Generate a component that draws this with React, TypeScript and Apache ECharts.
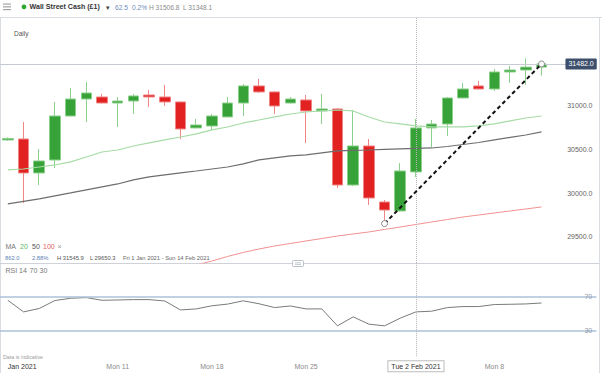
import React, { useEffect, useRef } from 'react';
import * as echarts from 'echarts';

const categories = [
  'Sun 3 Jan', 'Mon 4 Jan', 'Tue 5 Jan', 'Wed 6 Jan', 'Thu 7 Jan', 'Fri 8 Jan',
  'Sun 10 Jan', 'Mon 11 Jan', 'Tue 12 Jan', 'Wed 13 Jan', 'Thu 14 Jan', 'Fri 15 Jan',
  'Sun 17 Jan', 'Mon 18 Jan', 'Tue 19 Jan', 'Wed 20 Jan', 'Thu 21 Jan', 'Fri 22 Jan',
  'Sun 24 Jan', 'Mon 25 Jan', 'Tue 26 Jan', 'Wed 27 Jan', 'Thu 28 Jan', 'Fri 29 Jan',
  'Sun 31 Jan', 'Mon 1 Feb', 'Tue 2 Feb', 'Wed 3 Feb', 'Thu 4 Feb', 'Fri 5 Feb',
  'Sun 7 Feb', 'Mon 8 Feb', 'Tue 9 Feb', 'Wed 10 Feb', 'Thu 11 Feb', 'Fri 12 Feb',
  'Sun 14 Feb', 'Mon 15 Feb',
];

const tickIndex = [0, 7, 13, 19, 25, 31];
const tickText = ['Jan 2021', 'Mon 11', 'Mon 18', 'Mon 25', 'Feb', 'Mon 8'];

const opens = [30610, 30621, 30231, 30380, 30885, 31080, 31103, 31034, 31057, 31126, 31103, 31046, 30748, 30770, 30874, 31034, 31230, 31161, 31034, 31069, 30943, 30966, 30093, 30541, 29898, 29795, 30243, 30748, 30793, 31092, 31230, 31195, 31390, 31413, 31446];
const closes = [30627, 30231, 30369, 30885, 31080, 31149, 31034, 31057, 31115, 31103, 31046, 30736, 30782, 30885, 31034, 31230, 31161, 31000, 31080, 30943, 30966, 30093, 30541, 29944, 29806, 30254, 30748, 30793, 31092, 31195, 31195, 31390, 31413, 31446, 31482];
const lows = [30600, 29887, 30093, 30288, 30880, 30816, 31029, 30759, 30908, 30989, 31000, 30621, 30742, 30725, 30868, 30885, 31149, 30908, 31029, 30575, 30793, 30059, 30082, 29864, 29650.3, 29789, 30185, 30529, 30656, 31086, 31189, 31172, 31264, 31241, 31348.1];
const highs = [30640, 30816, 30507, 31046, 31207, 31275, 31138, 31103, 31138, 31184, 31241, 31052, 30851, 30908, 31103, 31252, 31310, 31166, 31103, 31126, 31138, 30977, 30954, 30621, 29921, 30346, 30851, 30839, 31103, 31264, 31287, 31425, 31459, 31545.9, 31506.8];

const ma20 = [30266, 30277, 30300, 30323, 30358, 30415, 30472, 30495, 30541, 30576, 30610, 30644, 30679, 30725, 30759, 30805, 30839, 30874, 30908, 30931, 30943, 30954, 30943, 30874, 30816, 30794, 30771, 30759, 30759, 30759, 30771, 30794, 30828, 30862, 30885];
const ma50 = [29876, 29905, 29933, 29968, 30002, 30037, 30071, 30105, 30151, 30186, 30209, 30232, 30254, 30277, 30300, 30335, 30381, 30404, 30427, 30438, 30461, 30484, 30490, 30495, 30501, 30507, 30513, 30518, 30535, 30558, 30581, 30610, 30639, 30667, 30702];
const ma100 = [null, null, null, null, null, null, null, null, null, null, null, null, 29175, 29221, 29273, 29319, 29359, 29393, 29422, 29451, 29479, 29508, 29531, 29554, 29583, 29611, 29640, 29669, 29697, 29726, 29749, 29772, 29795, 29818, 29841];
const rsi = [66.1, 52.4, 56.4, 65.8, 68.5, 69.3, 66.1, 66.5, 66.9, 66.9, 65.3, 54.7, 55.9, 59.6, 61.6, 65.5, 62.0, 57.5, 59.4, 55.9, 55.9, 35.9, 46.5, 37.9, 35.9, 45.0, 52.4, 53.2, 57.5, 58.7, 58.7, 61.1, 61.4, 61.8, 62.9];

const trendStart = [24, 29650.3];
const trendEnd = [34, 31482];
const lastPrice = 31482;
const crossIndex = 26;
const crossLabel = 'Tue 2 Feb 2021';
const priceTicks = [29500, 30000, 30500, 31000];
const rsiLevels = [70, 30];

const FONT = '"Liberation Sans", Arial, sans-serif';

function txt(x: number, y: number, text: string, fill: string, size: number, weight = 'normal') {
  return {
    type: 'text',
    x,
    y,
    silent: true,
    style: { text, fill, font: `${weight} ${size}px ${FONT}`, verticalAlign: 'middle', align: 'left' },
  };
}

export default function App() {
  const ref = useRef<HTMLDivElement>(null);
  useEffect(() => {
    if (!ref.current) return;
    const chart = echarts.init(ref.current, undefined, { renderer: 'svg' });
    const candleData = opens.map((o, i) => [o, closes[i], lows[i], highs[i]]);
    const gridLeft = -7.35;
    const gridWidth = 603.8;
    const option: any = {
      animation: false,
      backgroundColor: '#ffffff',
      textStyle: { fontFamily: FONT },
      grid: [
        { left: gridLeft, width: gridWidth, top: 17, height: 246 },
        { left: gridLeft, width: gridWidth, top: 263.5, height: 92.7 },
      ],
      xAxis: [
        {
          type: 'category', gridIndex: 0, data: categories, boundaryGap: true,
          axisLine: { show: false }, axisTick: { show: false }, axisLabel: { show: false }, splitLine: { show: false },
        },
        {
          type: 'category', gridIndex: 1, data: categories, boundaryGap: true, position: 'bottom',
          axisLine: { show: false }, axisTick: { show: false }, splitLine: { show: false },
          axisLabel: {
            show: true,
            margin: 6.5,
            fontSize: 7,
            color: '#8a8a8a',
            alignMinLabel: 'left',
            interval: (index: number) => tickIndex.indexOf(index) >= 0,
            formatter: (_v: string, index: number) => {
              const k = tickIndex.indexOf(index);
              if (k < 0) return '';
              return k === 0 ? `{d|${tickText[k]}}` : tickText[k];
            },
            rich: { d: { color: '#333333', fontSize: 7, fontFamily: FONT } },
          },
        },
      ],
      yAxis: [
        {
          type: 'value', gridIndex: 0, position: 'right', min: 29198, max: 32021, splitNumber: 6, scale: true,
          axisLine: { show: false }, axisTick: { show: false }, splitLine: { show: false },
          axisLabel: {
            inside: true, margin: 4, fontSize: 7, color: '#666666',
            formatter: (v: number) => (priceTicks.indexOf(v) >= 0 ? v.toFixed(1) : ''),
          },
        },
        {
          type: 'value', gridIndex: 1, min: 0, max: 109.6, show: false, splitLine: { show: false },
        },
      ],
      series: [
        {
          type: 'candlestick', name: 'Wall Street Cash', xAxisIndex: 0, yAxisIndex: 0,
          data: candleData, barWidth: 11,
          itemStyle: { color: '#37a237', color0: '#e22221', borderColor: '#8dd08d', borderColor0: '#f08585', borderWidth: 1 },
          markLine: {
            silent: true, symbol: ['none', 'none'], animation: false,
            data: [
              {
                yAxis: lastPrice,
                lineStyle: { color: '#c6cbd3', width: 1, type: 'solid' },
                label: {
                  show: true, position: 'end', distance: -31, formatter: lastPrice.toFixed(1),
                  backgroundColor: '#3d4f6d', color: '#ffffff', padding: [2, 3, 2, 3], fontSize: 7, borderRadius: 1,
                },
              },
              {
                xAxis: crossIndex,
                lineStyle: { color: '#b5b5b5', width: 1, type: 'dotted' },
                label: { show: false },
              },
            ],
          },
        },
        {
          type: 'line', name: 'MA20', xAxisIndex: 0, yAxisIndex: 0, data: ma20, showSymbol: false, smooth: false,
          lineStyle: { color: '#a6dca6', width: 1.2 }, z: 3,
        },
        {
          type: 'line', name: 'MA50', xAxisIndex: 0, yAxisIndex: 0, data: ma50, showSymbol: false,
          lineStyle: { color: '#6e6e6e', width: 1.2 }, z: 3,
        },
        {
          type: 'line', name: 'MA100', xAxisIndex: 0, yAxisIndex: 0, data: ma100, showSymbol: false, connectNulls: false,
          lineStyle: { color: '#f29191', width: 1 }, z: 3,
        },
        {
          type: 'line', name: 'Trend', xAxisIndex: 0, yAxisIndex: 0, data: [trendStart, trendEnd],
          showSymbol: true, symbol: 'circle', symbolSize: 6,
          itemStyle: { color: '#ffffff', borderColor: '#8a8a8a', borderWidth: 1 },
          lineStyle: { color: '#111111', width: 2, type: [4, 3] }, z: 5,
        },
        {
          type: 'line', name: 'RSI', xAxisIndex: 1, yAxisIndex: 1, data: rsi, showSymbol: false,
          lineStyle: { color: '#7a7a7a', width: 1 }, z: 3,
          markLine: {
            silent: true, symbol: ['none', 'none'], animation: false,
            data: [
              ...rsiLevels.map((lv) => ({
                yAxis: lv,
                lineStyle: { color: '#adc2da', width: 1.5, type: 'solid' },
                label: { show: true, position: 'end', distance: -12, formatter: String(lv), fontSize: 7, color: '#8f9bab' },
              })),
              {
                xAxis: crossIndex,
                lineStyle: { color: '#b5b5b5', width: 1, type: 'dotted' },
                label: {
                  show: true, position: 'start', distance: 5, formatter: crossLabel,
                  backgroundColor: '#ffffff', borderColor: '#bdbdbd', borderWidth: 1, padding: [2, 3, 1, 3],
                  color: '#333333', fontSize: 7,
                },
              },
            ],
          },
        },
      ],
      graphic: [
        { type: 'line', silent: true, shape: { x1: 0, y1: 17.5, x2: 602, y2: 17.5 }, style: { stroke: '#d9dce1', lineWidth: 1 } },
        { type: 'line', silent: true, shape: { x1: 0.5, y1: 17, x2: 0.5, y2: 373 }, style: { stroke: '#d9dce1', lineWidth: 1 } },
        { type: 'line', silent: true, shape: { x1: 599.5, y1: 17, x2: 599.5, y2: 373 }, style: { stroke: '#d9dce1', lineWidth: 1 } },
        { type: 'line', silent: true, shape: { x1: 0, y1: 263.5, x2: 599, y2: 263.5 }, style: { stroke: '#cfd3d9', lineWidth: 1 } },
        { type: 'rect', silent: true, shape: { x: 292.5, y: 260.5, width: 11, height: 6, r: 1 }, style: { fill: '#ffffff', stroke: '#b9bec6', lineWidth: 1 } },
        { type: 'line', silent: true, shape: { x1: 295, y1: 262.8, x2: 301, y2: 262.8 }, style: { stroke: '#b9bec6', lineWidth: 0.8 } },
        { type: 'line', silent: true, shape: { x1: 295, y1: 264.4, x2: 301, y2: 264.4 }, style: { stroke: '#b9bec6', lineWidth: 0.8 } },
        { type: 'rect', silent: true, shape: { x: 3, y: 3.5, width: 8, height: 1.1 }, style: { fill: '#9a9a9a' } },
        { type: 'rect', silent: true, shape: { x: 3, y: 6.3, width: 8, height: 1.1 }, style: { fill: '#9a9a9a' } },
        { type: 'rect', silent: true, shape: { x: 3, y: 9.1, width: 8, height: 1.1 }, style: { fill: '#9a9a9a' } },
        { type: 'circle', silent: true, shape: { cx: 24, cy: 6.8, r: 2.4 }, style: { fill: '#2ea82e' } },
        txt(29.5, 7, 'Wall Street Cash (£1)', '#333333', 7.1, 'bold'),
        txt(105.5, 7.3, '▾', '#444444', 7),
        txt(115, 7, '62.5', '#6d8cb8', 6.6),
        txt(132, 7, '0.2%', '#6d8cb8', 6.6),
        txt(149, 7, 'H 31506.8  L 31348.1', '#8a8a8a', 6.6),
        txt(14, 33, 'Daily', '#555555', 6.5),
        txt(5.5, 246.5, 'MA', '#777777', 7),
        txt(20, 246.5, '20', '#5cb85c', 7),
        txt(32, 246.5, '50', '#555555', 7),
        txt(43, 246.5, '100', '#e25c5c', 7),
        txt(57.5, 246.5, '×', '#9a9a9a', 7),
        txt(5, 258, '862.0', '#5b7fb5', 5.8),
        txt(32, 258, '2.88%', '#5b7fb5', 5.8),
        txt(57, 258, 'H 31545.9', '#555555', 5.8),
        txt(90, 258, 'L 29650.3', '#555555', 5.8),
        txt(123, 258, 'Fri 1 Jan 2021 - Sun 14 Feb 2021', '#666666', 5.8),
        txt(5.5, 270.5, 'RSI', '#777777', 7),
        txt(19, 270.5, '14', '#777777', 7),
        txt(29.5, 270.5, '70', '#777777', 7),
        txt(39.5, 270.5, '30', '#777777', 7),
        txt(3, 357, 'Data is indicative', '#9a9a9a', 5.3),
      ],
    };
    chart.setOption(option);
    return () => chart.dispose();
  }, []);
  return (
    <div
      ref={ref}
      style={{ position: 'absolute', left: 0, top: 0, width: 602, height: 373, background: '#fff' }}
    />
  );
}
